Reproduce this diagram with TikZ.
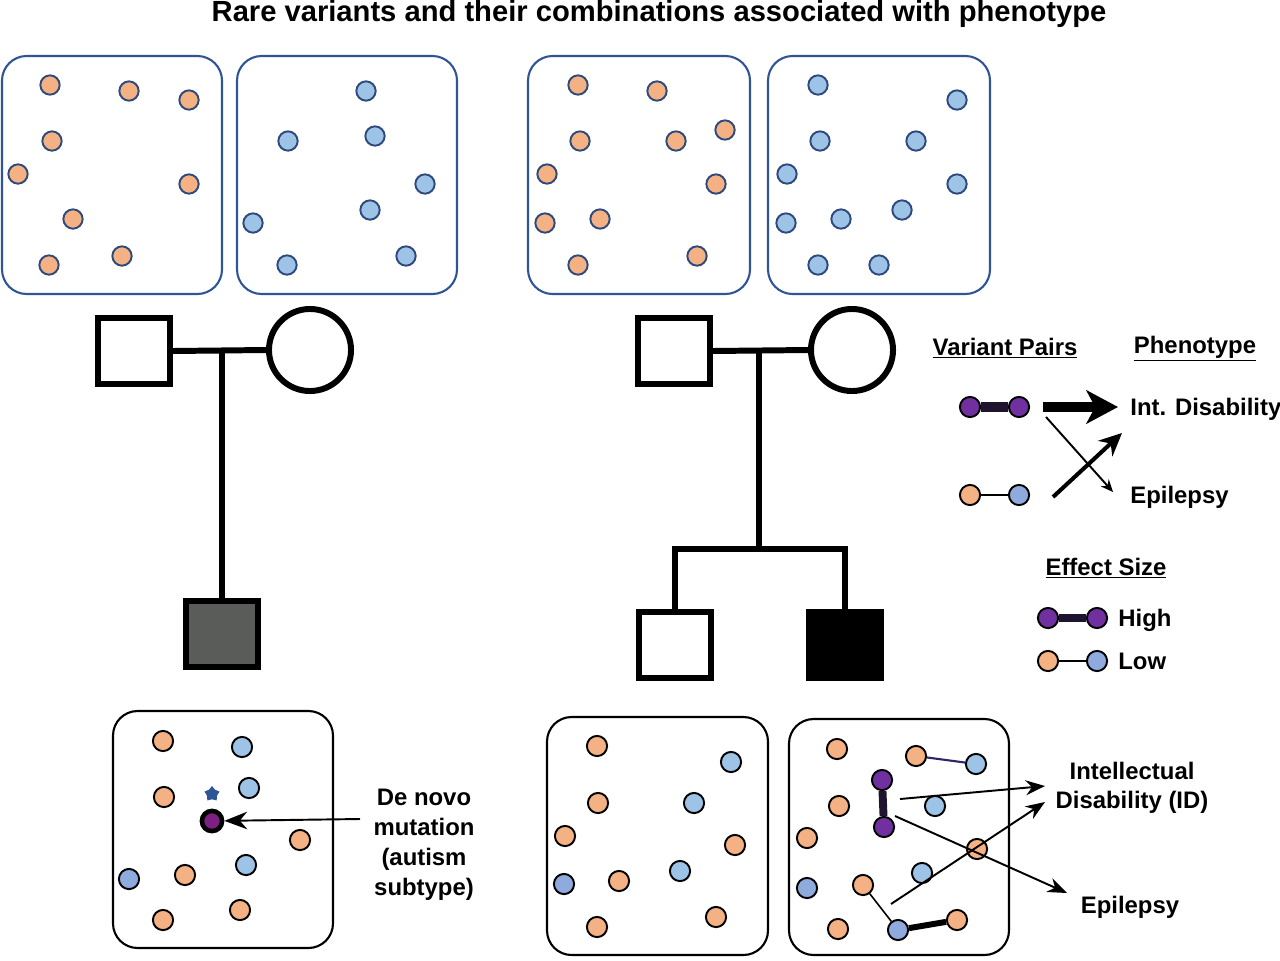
\documentclass[tikz,border=0pt]{standalone}
\usepackage{fontspec}
\setmainfont{Liberation Sans}
\usetikzlibrary{arrows.meta,shapes.geometric}
\definecolor{orangeF}{HTML}{F4B183}
\definecolor{blueF}{HTML}{9DC3E6}
\definecolor{blueD}{HTML}{8FAADC}
\definecolor{purpleF}{HTML}{7030A0}
\definecolor{magentaF}{HTML}{7E1F82}
\definecolor{boxblue}{HTML}{2F5597}
\definecolor{dotline}{HTML}{2E4A7D}
\definecolor{pairdark}{HTML}{1E1430}
\definecolor{pairnavy}{HTML}{2E2668}
\definecolor{childgray}{HTML}{5A5C5A}
\tikzset{
  topbox/.style={draw=boxblue,line width=1.2pt,rounded corners=14pt},
  botbox/.style={draw=black,line width=1.2pt,rounded corners=14pt},
  tdot/.style={circle,draw=dotline,line width=1.1pt,minimum size=11pt,inner sep=0pt},
  tor/.style={tdot,fill=orangeF},
  tbl/.style={tdot,fill=blueF},
  bdot/.style={circle,draw=black,line width=1.1pt,minimum size=11.5pt,inner sep=0pt},
  bor/.style={bdot,fill=orangeF},
  bbl/.style={bdot,fill=blueF},
  bbd/.style={bdot,fill=blueD},
  bpu/.style={bdot,fill=purpleF},
  ped/.style={draw=black,line width=3.4pt,inner sep=0pt},
  male/.style={ped,rectangle,minimum width=41pt,minimum height=38pt},
  female/.style={ped,circle,minimum size=46.7pt},
  pedline/.style={line width=3.4pt},
  lbl/.style={font=\fontsize{13.6}{16.6}\selectfont\bfseries,inner sep=0pt},
  arr/.style={line width=1.1pt,-{Stealth[length=11pt,width=8.5pt]}},
  thinarr/.style={line width=1.1pt,-{Stealth[length=7pt,width=6pt]}},
  midarr/.style={line width=2.3pt,-{Stealth[length=13pt,width=12pt]}},
  bigarr/.style={line width=5.7pt,-{Stealth[length=18pt,width=19pt,inset=5pt]}},
}
\begin{document}
\begin{tikzpicture}[x=0.02cm,y=-0.02cm]
\useasboundingbox (0,0) rectangle (1280,960);
% title
\node[font=\fontsize{16.6}{19}\selectfont\bfseries,inner sep=0pt,anchor=base] (title) at (659,21) {Rare variants and their combinations associated with phenotype};
% top boxes
\draw[topbox] (2,56) rectangle (222,294);
\draw[topbox] (237,56) rectangle (457,294);
\draw[topbox] (528,56) rectangle (750,294);
\draw[topbox] (768,56) rectangle (990,294);
\foreach \x/\y [count=\i] in {50/85,129/91,189/100,52/141,18/174,189/184,73/219,49/265,122/256}
  \node[tor] (a\i) at (\x,\y) {};
\foreach \x/\y [count=\i] in {366/91,288/141,375/136,425/184,370/210,253/223,287/265,406/256}
  \node[tbl] (b\i) at (\x,\y) {};
\foreach \x/\y [count=\i] in {578/85,657/91,580/141,676/141,725/130,547/174,716/184,545/223,600/219,578/265,697/256}
  \node[tor] (c\i) at (\x,\y) {};
\foreach \x/\y [count=\i] in {818/85,957/100,820/141,916/141,787/174,957/184,902/210,786/223,841/219,818/265,879/265}
  \node[tbl] (d\i) at (\x,\y) {};
% left pedigree
\node[male] (fL) at (134,351) {};
\node[female] (mL) at (310,350) {};
\node[male,fill=childgray] (cL) at (222,634) {};
\coordinate (jL) at (222,350);
\draw[pedline] (fL.east) -- (mL.west);
\draw[pedline] (jL) -- (cL.north);
% right pedigree
\node[male] (fR) at (674,351) {};
\node[female] (mR) at (852,350) {};
\node[male] (cR1) at (675,645) {};
\node[male,fill=black] (cR2) at (845,645) {};
\coordinate (jR) at (759,350);
\coordinate (sR) at (759,549);
\draw[pedline] (fR.east) -- (mR.west);
\draw[pedline] (jR) -- (sR);
\draw[pedline] (cR1.north) |- (sR) -| (cR2.north);
% legend: variant pairs / phenotype
\node[lbl,anchor=base] (vp) at (1005,355) {\underline{Variant Pairs}};
\node[lbl,anchor=base] (ph) at (1195,353) {\underline{Phenotype}};
\node[bpu] (lp1) at (970,407) {};
\node[bpu] (lp2) at (1019,407) {};
\draw[line width=5.7pt,pairdark] (lp1) -- (lp2);
\node[bor] (lo1) at (970,495) {};
\node[bbd] (lo2) at (1019,495) {};
\draw[line width=1pt] (lo1) -- (lo2);
\node[lbl,anchor=base west] (lid) at (1130,415) {Int. Disability};
\node[lbl,anchor=base west] (lep) at (1130,503) {Epilepsy};
\coordinate (g1) at (1043,407);
\coordinate (g2) at (1046,417);
\coordinate (g3) at (1053,497);
\coordinate (h1) at (1118,407);
\coordinate (h2) at (1113,492);
\coordinate (h3) at (1122,433);
\draw[bigarr] (g1) -- (h1);
\draw[thinarr] (g2) -- (h2);
\draw[midarr] (g3) -- (h3);
% legend: effect size
\node[lbl,anchor=base] (es) at (1106,575) {\underline{Effect Size}};
\node[bpu] (eh1) at (1048,618) {};
\node[bpu] (eh2) at (1097,618) {};
\draw[line width=4.5pt,pairdark] (eh1) -- (eh2);
\node[lbl,anchor=base west] (high) at (1118,626) {High};
\node[bor] (el1) at (1048,661) {};
\node[bbd] (el2) at (1097,661) {};
\draw[line width=1pt] (el1) -- (el2);
\node[lbl,anchor=base west] (low) at (1118,669) {Low};
% bottom left box
\draw[botbox] (113,711) rectangle (333,948);
\foreach \x/\y [count=\i] in {163/741,164/797,300/840,185/875,163/920,240/910}
  \node[bor] (e\i) at (\x,\y) {};
\foreach \x/\y [count=\i] in {242/747,249/788,246/865}
  \node[bbl] (f\i) at (\x,\y) {};
\node[bbd] (f4) at (129,879) {};
\node[star,star points=5,fill=boxblue,minimum size=9pt,inner sep=0pt] (star) at (212,794) {};
\node[circle,draw=black,line width=2.6pt,fill=magentaF,minimum size=11.5pt,inner sep=0pt] (dn) at (212,821) {};
\node[lbl,align=center,font=\fontsize{13.6}{17}\selectfont\bfseries] (dntext) at (424,845) {De novo\\mutation\\(autism\\subtype)};
\coordinate (dnstart) at (360,819);
\draw[line width=1.1pt,-{Stealth[length=13pt,width=10pt]}] (dnstart) -- (dn);
% bottom middle box
\draw[botbox] (547,717) rectangle (768,955);
\foreach \x/\y [count=\i] in {597/746,598/803,565/836,735/845,619/881,597/927,716/917}
  \node[bor] (g\i) at (\x,\y) {};
\foreach \x/\y [count=\i] in {731/762,694/803,680/871}
  \node[bbl] (k\i) at (\x,\y) {};
\node[bbd] (k4) at (564,884) {};
% bottom right box
\draw[botbox] (789,719) rectangle (1009,955);
\foreach \x/\y [count=\i] in {837/749,916/756,839/806,807/838,977/849,863/885,838/929,957/920}
  \node[bor] (m\i) at (\x,\y) {};
\foreach \x/\y [count=\i] in {976/764,935/806,922/873}
  \node[bbl] (n\i) at (\x,\y) {};
\node[bbd] (n4) at (807,888) {};
\node[bbd] (n5) at (898,930) {};
\node[bpu] (p1) at (882,780) {};
\node[bpu] (p2) at (884,827) {};
\draw[line width=4.5pt,pairdark] (p1) -- (p2);
\draw[line width=1.2pt,pairnavy] (m2) -- (n1);
\draw[line width=0.9pt] (m6) -- (n5);
\draw[line width=3.4pt] (n5) -- (m8);
\node[lbl,align=center,font=\fontsize{13.6}{16.6}\selectfont\bfseries] (idtext) at (1132,788) {Intellectual\\Disability (ID)};
\node[lbl,anchor=base] (eptext) at (1130,913) {Epilepsy};
\coordinate (r1) at (900,799);
\coordinate (r2) at (895,816);
\coordinate (r3) at (891,904);
\coordinate (t1) at (1045,786);
\coordinate (t2) at (1067,893);
\coordinate (t3) at (1045,802);
\draw[arr] (r1) -- (t1);
\draw[arr] (r2) -- (t2);
\draw[arr] (r3) -- (t3);
\end{tikzpicture}
\end{document}
